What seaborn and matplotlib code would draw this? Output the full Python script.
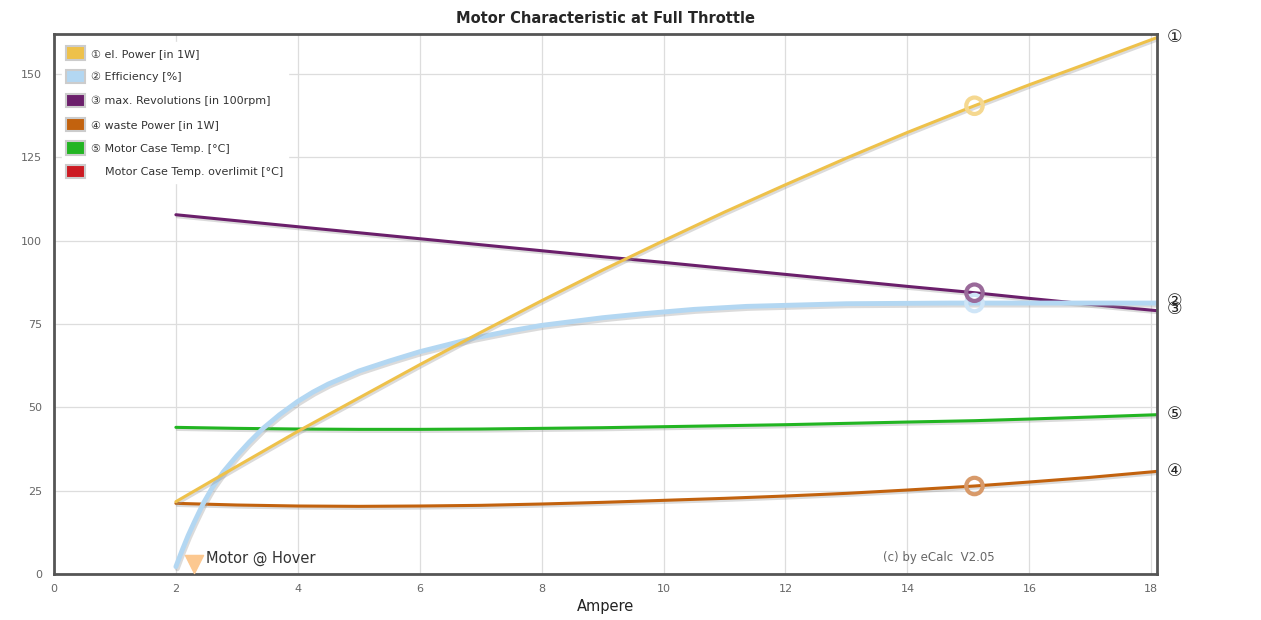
import matplotlib
matplotlib.use("Agg")
import matplotlib.pyplot as plt
import matplotlib.patheffects as pe
from matplotlib.patches import Patch
import seaborn as sns
import pandas as pd

# ---- data ----
x_main = [2, 3, 4, 5, 6, 7, 8, 9, 10, 11, 12, 13, 14, 15.1, 16, 17, 18.1]
el_power = [21.7, 32.3, 42.8, 52.8, 62.8, 72.5, 82.0, 91.2, 100.0, 108.6, 116.8, 124.8, 132.5,
            140.5, 146.8, 153.5, 161.0]
revolutions = [107.8, 106.0, 104.2, 102.4, 100.6, 98.8, 97.0, 95.2, 93.5, 91.7, 89.9, 88.1, 86.3,
               84.4, 82.7, 80.9, 79.0]
waste_power = [21.2, 20.7, 20.4, 20.3, 20.4, 20.6, 21.0, 21.5, 22.1, 22.7, 23.4, 24.2, 25.2,
               26.4, 27.6, 29.0, 30.8]
case_temp = [44.0, 43.7, 43.5, 43.4, 43.4, 43.5, 43.7, 43.9, 44.2, 44.5, 44.8, 45.2, 45.6,
             46.0, 46.5, 47.1, 47.8]

x_eff = [2, 2.1, 2.2, 2.3, 2.45, 2.6, 2.78, 3.0, 3.2, 3.43, 3.7, 4.0, 4.25, 4.5, 5, 5.5, 6, 6.87,
         7.5, 8, 9, 9.66, 10.5, 11.36, 13, 14.7, 15.1, 16, 18.1]
efficiency = [2.2, 7, 11.5, 15.5, 21.2, 26, 30.7, 35.5, 39.5, 43.7, 47.8, 51.8, 54.6, 57.0, 60.9,
              63.9, 66.7, 70.7, 73.0, 74.6, 76.9, 78.1, 79.4, 80.3, 81.1, 81.3, 81.3, 81.3, 81.3]

op_x = 15.1
op_vals = [140.5, 81.3, 84.4, 26.4]

hover_x, hover_y = 2.3, 3.0

legend_labels = ["① el. Power [in 1W]", "② Efficiency [%]", "③ max. Revolutions [in 100rpm]",
                 "④ waste Power [in 1W]", "⑤ Motor Case Temp. [°C]", "    Motor Case Temp. overlimit [°C]"]
end_labels = ["①", "②", "③", "④", "⑤"]
end_values = [161, 82, 79.5, 31, 48]

colors = ["#EEC14A", "#B3D7F2", "#6B1F6B", "#C2620E", "#22B522", "#CC1A22"]
marker_colors = ["#F5D890", "#CFE5F7", "#9A6A9A", "#D89A6A"]

sns.set_style("white")
plt.rcParams['font.family'] = ['DejaVu Sans', 'Noto Sans CJK SC']

fig = plt.figure(figsize=(12.61, 6.2), dpi=100)
ax = fig.add_axes([0.0428, 0.0742, 0.875, 0.8708])

shadow = [pe.SimpleLineShadow(offset=(1, -1.5), shadow_color="#999999", alpha=0.35), pe.Normal()]

df_main = pd.DataFrame({"x": x_main, "p": el_power, "r": revolutions, "w": waste_power, "t": case_temp})
df_eff = pd.DataFrame({"x": x_eff, "e": efficiency})

sns.lineplot(data=df_main, x="x", y="t", color=colors[4], lw=2.2, ax=ax, path_effects=shadow)
sns.lineplot(data=df_main, x="x", y="w", color=colors[3], lw=2.2, ax=ax, path_effects=shadow)
sns.lineplot(data=df_main, x="x", y="r", color=colors[2], lw=2.2, ax=ax, path_effects=shadow)
sns.lineplot(data=df_eff, x="x", y="e", color=colors[1], lw=3.5, ax=ax, path_effects=shadow)
sns.lineplot(data=df_main, x="x", y="p", color=colors[0], lw=2.2, ax=ax, path_effects=shadow)

for v, mc in zip(op_vals, marker_colors):
    ax.scatter([op_x], [v], s=140, facecolors="none", edgecolors=mc, linewidths=3, zorder=5)

ax.scatter([hover_x], [hover_y], marker="v", s=170, color="#FCC890", zorder=5, clip_on=False)
ax.text(hover_x + 0.2, 4.8, "Motor @ Hover", fontsize=10.5, color="#333333", va="center")
ax.text(13.6, 4.8, "(c) by eCalc  V2.05", fontsize=8.5, color="#666666", va="center")

for lbl, v in zip(end_labels, end_values):
    ax.text(18.25, v, lbl, fontsize=12.5, va="center", ha="left", clip_on=False)

ax.set_xlim(0, 18.1)
ax.set_ylim(0, 162)
ax.set_xticks(range(0, 19, 2))
ax.set_yticks([0, 25, 50, 75, 100, 125, 150])
ax.grid(True, color="#DDDDDD", lw=0.9)
ax.set_axisbelow(True)
for s in ax.spines.values():
    s.set_color("#555555")
    s.set_linewidth(2)
ax.tick_params(axis="both", labelsize=8, colors="#666666", length=5, width=0.8)
ax.tick_params(axis="x", length=0, pad=7)
ax.set_xlabel("Ampere", fontsize=10.5, color="#222222", labelpad=4)
ax.set_ylabel("")
ax.set_title("Motor Characteristic at Full Throttle", fontsize=10.5, fontweight="bold", pad=8)

handles = [Patch(facecolor=c, edgecolor="#CCCCCC", linewidth=1.5) for c in colors]
leg = ax.legend(handles, legend_labels, loc="upper left", fontsize=8, frameon=True,
                framealpha=1, edgecolor="white", handlelength=1.7, handleheight=1.45,
                handletextpad=0.55, labelspacing=0.95, borderaxespad=0.7, borderpad=0.4)
for t in leg.get_texts():
    t.set_color("#333333")

fig.savefig("out.png", dpi=100)
